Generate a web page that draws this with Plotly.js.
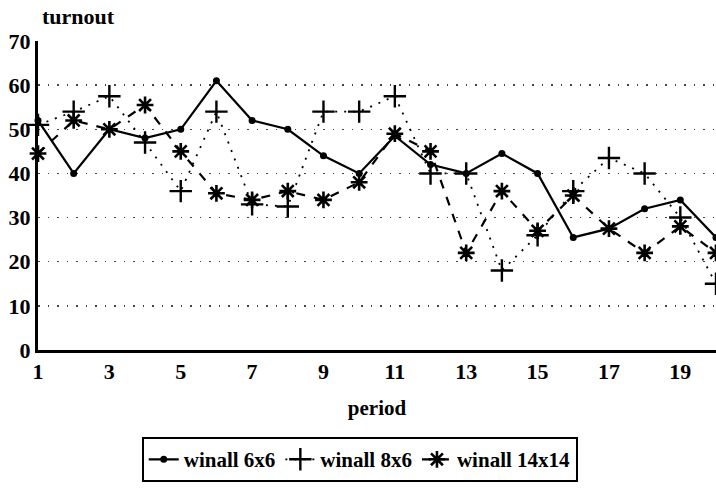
<!DOCTYPE html>
<html>
<head>
<meta charset="utf-8">
<script src="https://cdn.plot.ly/plotly-3.0.1.min.js"></script>
<style>
html,body{margin:0;padding:0;background:#fff;}
#chart{width:716px;height:489px;}
</style>
</head>
<body>
<div id="chart"></div>
<script>
const periods = [1,2,3,4,5,6,7,8,9,10,11,12,13,14,15,16,17,18,19,20];
const seriesNames = ["winall 6x6", "winall 8x6", "winall 14x14"];
const winall6x6 = [52,40,50,48,50,61,52,50,44,40,48.5,42,40,44.5,40,25.5,27.5,32,34,25.5];
const winall8x6 = [51,54,57.5,47,36,54,33,32.5,54,54,57.5,40,40,18,26,36,43.5,40,30,15];
const winall14x14 = [44.5,52,50,55.5,45,35.5,34,36,34,38,49,45,22,36,27,35,27.5,22,28,22];
const xTickVals = [1,3,5,7,9,11,13,15,17,19];
const yTickVals = [0,10,20,30,40,50,60,70];

const serif = "Liberation Serif, Times New Roman, serif";

const traces = [
  {
    x: periods, y: winall6x6, name: seriesNames[0], type: "scatter", mode: "lines+markers",
    line: {color: "#000", width: 2.2, dash: "solid"},
    marker: {symbol: "circle", size: 7, color: "#000"},
    cliponaxis: false
  },
  {
    x: periods, y: winall8x6, name: seriesNames[1], type: "scatter", mode: "lines+markers",
    line: {color: "#000", width: 1.8, dash: "2px,7px"},
    marker: {symbol: "cross-thin-open", size: 16, color: "#000", line: {color: "#000", width: 2.4}},
    cliponaxis: false
  },
  {
    x: periods, y: winall14x14, name: seriesNames[2], type: "scatter", mode: "lines+markers",
    line: {color: "#000", width: 2.2, dash: "9px,9px"},
    marker: {symbol: "asterisk-open", size: 14, color: "#000", line: {color: "#000", width: 2.6}},
    cliponaxis: false
  }
];

const layout = {
  width: 716, height: 489,
  margin: {l: 38, r: 0, t: 41, b: 139},
  paper_bgcolor: "#fff", plot_bgcolor: "#fff",
  font: {family: serif, color: "#000", size: 21, weight: "bold"},
  showlegend: true,
  legend: {
    orientation: "h",
    x: 0.153, xanchor: "left",
    y: -0.282, yanchor: "top",
    bordercolor: "#000", borderwidth: 2,
    font: {family: serif, size: 21, color: "#000", weight: "bold"},
    itemwidth: 30,
    tracegroupgap: 0
  },
  xaxis: {
    range: [1, 20],
    tickvals: xTickVals,
    ticktext: xTickVals.map(String),
    ticks: "",
    showgrid: false,
    zeroline: false,
    showline: true, linecolor: "#000", linewidth: 2.5,
    tickfont: {family: serif, size: 22, color: "#000", weight: "bold"},
    title: {text: "period", font: {family: serif, size: 21, color: "#000", weight: "bold"}, standoff: 18},
    automargin: false
  },
  yaxis: {
    range: [0, 70],
    tickvals: yTickVals,
    ticktext: yTickVals.map(String),
    ticks: "",
    showgrid: true, gridcolor: "#444", gridwidth: 1.3, griddash: "1.5px,8px",
    zeroline: false,
    showline: true, linecolor: "#000", linewidth: 3,
    tickfont: {family: serif, size: 22, color: "#000", weight: "bold"},
    automargin: false
  },
  annotations: [
    {
      text: "turnout", xref: "paper", yref: "paper",
      x: 0.003, xanchor: "left", y: 1.078, yanchor: "middle",
      showarrow: false,
      font: {family: serif, size: 22, color: "#000", weight: "bold"}
    }
  ]
};

Plotly.newPlot("chart", traces, layout, {displayModeBar: false, staticPlot: true});
</script>
</body>
</html>
